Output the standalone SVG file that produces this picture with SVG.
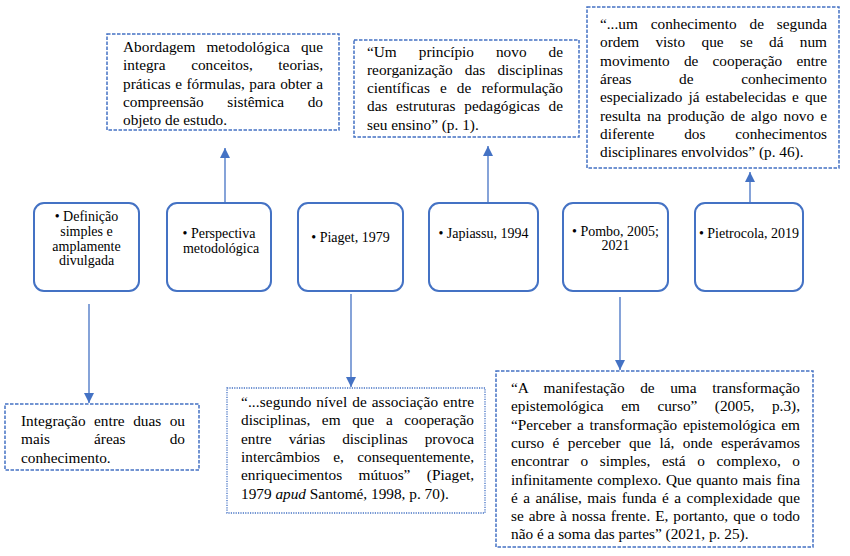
<svg xmlns="http://www.w3.org/2000/svg" width="850" height="556" viewBox="0 0 850 556">
<style>
  text { font-family: 'Liberation Serif', 'Times New Roman', Times, 'DejaVu Serif', 'Noto Serif', serif; fill: #000; }
  .q { font-size: 15.3px; }
  .m { font-size: 14px; text-anchor: middle; }
  .dash { fill: #fff; stroke: #4472C4; stroke-width: 1.5; stroke-dasharray: 3.5 1.5; }
  .dot { fill: #fff; stroke: #4472C4; stroke-width: 1.3; stroke-dasharray: 1.2 1.2; }
  .node { fill: #fff; stroke: #4472C4; stroke-width: 2; }
  .conn { fill: none; stroke: #4472C4; stroke-width: 1.3; marker-end: url(#arr); }
</style>
<defs>
  <marker id="arr" markerUnits="userSpaceOnUse" markerWidth="10" markerHeight="10" refX="10" refY="5" orient="auto">
    <path d="M0,0 L10,5 L0,10 z" fill="#4472C4"/>
  </marker>
</defs>
<rect width="850" height="556" fill="#fff"/>

<g id="connectors">
  <path class="conn" d="M225,203 V148"/>
  <path class="conn" d="M488,203 V146"/>
  <path class="conn" d="M750,203 V172"/>
  <path class="conn" d="M89,304 V403"/>
  <path class="conn" d="M351,294 V387"/>
  <path class="conn" d="M620,297 V370"/>
</g>

<g id="n-definicao">
  <rect class="node" x="34" y="203" width="105" height="88" rx="10"/>
  <text class="m" x="86.5" y="220.5" font-family="Liberation Serif, serif">• Definição</text>
  <text class="m" x="86.5" y="236" font-family="Liberation Serif, serif">simples e</text>
  <text class="m" x="86.5" y="250.5" font-family="Liberation Serif, serif">amplamente</text>
  <text class="m" x="86.5" y="265" font-family="Liberation Serif, serif">divulgada</text>
</g>
<g id="n-perspectiva">
  <rect class="node" x="167" y="203" width="104" height="88" rx="10"/>
  <text class="m" x="219" y="238">• Perspectiva</text>
  <text class="m" x="221" y="253">metodológica</text>
</g>
<g id="n-piaget">
  <rect class="node" x="298" y="203" width="105" height="88" rx="10"/>
  <text class="m" x="350.5" y="242">• Piaget, 1979</text>
</g>
<g id="n-japiassu">
  <rect class="node" x="429" y="203" width="109" height="88" rx="10"/>
  <text class="m" x="483.5" y="238">• Japiassu, 1994</text>
</g>
<g id="n-pombo">
  <rect class="node" x="563" y="203" width="105" height="88" rx="10"/>
  <text class="m" x="615.5" y="236">• Pombo, 2005;</text>
  <text class="m" x="615.5" y="250">2021</text>
</g>
<g id="n-pietrocola">
  <rect class="node" x="695" y="203" width="108" height="88" rx="10"/>
  <text class="m" x="749" y="238">• Pietrocola, 2019</text>
</g>

<g id="n-abordagem">
  <rect class="dash" x="107" y="34" width="232" height="96"/>
  <text class="q" x="123" y="52" textLength="200" lengthAdjust="spacing" word-spacing="7.3">Abordagem metodológica que</text>
  <text class="q" x="123" y="70.3" textLength="200" lengthAdjust="spacing" word-spacing="21.8">integra conceitos, teorias,</text>
  <text class="q" x="123" y="88.6" textLength="200" lengthAdjust="spacing" word-spacing="0.7">práticas e fórmulas, para obter a</text>
  <text class="q" x="123" y="106.9" textLength="200" lengthAdjust="spacing" word-spacing="19.7">compreensão sistêmica do</text>
  <text class="q" x="123" y="125.2">objeto de estudo.</text>
</g>

<g id="n-japiassu-quote">
  <rect class="dash" x="354" y="40" width="225" height="97"/>
  <text class="q" x="367" y="56.5" textLength="196" lengthAdjust="spacing" word-spacing="18.2">“Um princípio novo de</text>
  <text class="q" x="367" y="74.8" textLength="196" lengthAdjust="spacing" word-spacing="8.3">reorganização das disciplinas</text>
  <text class="q" x="367" y="93.1" textLength="196" lengthAdjust="spacing" word-spacing="6.3">científicas e de reformulação</text>
  <text class="q" x="367" y="111.4" textLength="196" lengthAdjust="spacing" word-spacing="4.9">das estruturas pedagógicas de</text>
  <text class="q" x="367" y="129.7">seu ensino” (p. 1).</text>
</g>

<g id="n-pietrocola-quote">
  <rect class="dash" x="587" y="7" width="252" height="161"/>
  <text class="q" x="600" y="29" textLength="227" lengthAdjust="spacing" word-spacing="9.1">“...um conhecimento de segunda</text>
  <text class="q" x="600" y="47.3" textLength="227" lengthAdjust="spacing" word-spacing="12.5">ordem visto que se dá num</text>
  <text class="q" x="600" y="65.6" textLength="227" lengthAdjust="spacing" word-spacing="10.4">movimento de cooperação entre</text>
  <text class="q" x="600" y="83.9" textLength="227" lengthAdjust="spacing" word-spacing="43.8">áreas de conhecimento</text>
  <text class="q" x="600" y="102.2" textLength="227" lengthAdjust="spacing" word-spacing="2.15">especializado já estabelecidas e que</text>
  <text class="q" x="600" y="120.5" textLength="227" lengthAdjust="spacing" word-spacing="2.3">resulta na produção de algo novo e</text>
  <text class="q" x="600" y="138.8" textLength="227" lengthAdjust="spacing" word-spacing="26">diferente dos conhecimentos</text>
  <text class="q" x="600" y="157.1">disciplinares envolvidos” (p. 46).</text>
</g>

<g id="n-integracao">
  <rect class="dash" x="5" y="404" width="194" height="66"/>
  <text class="q" x="21" y="426" textLength="164" lengthAdjust="spacing" word-spacing="4.7">Integração entre duas ou</text>
  <text class="q" x="21" y="444.3" textLength="164" lengthAdjust="spacing" word-spacing="40.4">mais áreas do</text>
  <text class="q" x="21" y="462.6">conhecimento.</text>
</g>

<g id="n-piaget-quote">
  <rect class="dot" x="227" y="388" width="258" height="125"/>
  <text class="q" x="241" y="407" textLength="233" lengthAdjust="spacing" word-spacing="0.9">“...segundo nível de associação entre</text>
  <text class="q" x="241" y="425.3" textLength="233" lengthAdjust="spacing" word-spacing="7.8">disciplinas, em que a cooperação</text>
  <text class="q" x="241" y="443.6" textLength="233" lengthAdjust="spacing" word-spacing="13.2">entre várias disciplinas provoca</text>
  <text class="q" x="241" y="461.9" textLength="233" lengthAdjust="spacing" word-spacing="9.5">intercâmbios e, consequentemente,</text>
  <text class="q" x="241" y="480.2" textLength="233" lengthAdjust="spacing" word-spacing="12.6">enriquecimentos mútuos” (Piaget,</text>
  <text class="q" x="241" y="498.5">1979 <tspan font-style="italic">apud</tspan> Santomé, 1998, p. 70).</text>
</g>

<g id="n-pombo-quote">
  <rect class="dash" x="496" y="371" width="317" height="176"/>
  <text class="q" x="511" y="393" textLength="289" lengthAdjust="spacing" word-spacing="11.7">“A manifestação de uma transformação</text>
  <text class="q" x="511" y="411.3" textLength="289" lengthAdjust="spacing" word-spacing="13.7">epistemológica em curso” (2005, p.3),</text>
  <text class="q" x="511" y="429.6" textLength="289" lengthAdjust="spacing" word-spacing="1.9">“Perceber a transformação epistemológica em</text>
  <text class="q" x="511" y="447.9" textLength="289" lengthAdjust="spacing" word-spacing="4.6">curso é perceber que lá, onde esperávamos</text>
  <text class="q" x="511" y="466.2" textLength="289" lengthAdjust="spacing" word-spacing="7.8">encontrar o simples, está o complexo, o</text>
  <text class="q" x="511" y="484.5" textLength="289" lengthAdjust="spacing" word-spacing="0.9">infinitamente complexo. Que quanto mais fina</text>
  <text class="q" x="511" y="502.8" textLength="289" lengthAdjust="spacing" word-spacing="1.65">é a análise, mais funda é a complexidade que</text>
  <text class="q" x="511" y="521.1" textLength="289" lengthAdjust="spacing" word-spacing="1.1">se abre à nossa frente. E, portanto, que o todo</text>
  <text class="q" x="511" y="539.4">não é a soma das partes” (2021, p. 25).</text>
</g>
</svg>
